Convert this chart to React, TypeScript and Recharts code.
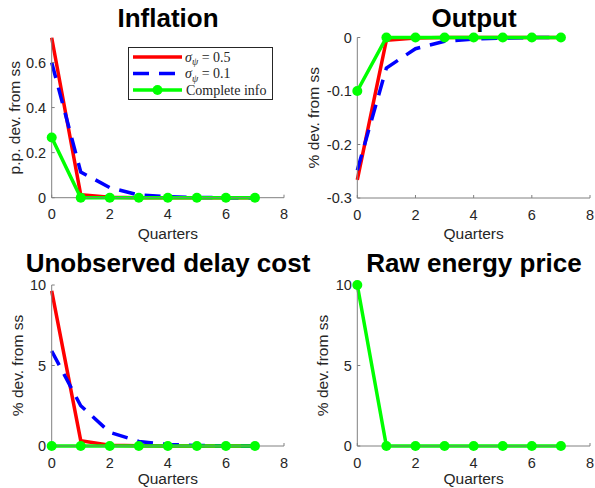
import { LineChart, Line, XAxis, YAxis, Legend, Label } from 'recharts';

// impulse responses, quarters 0..7
const quarters = [0, 1, 2, 3, 4, 5, 6, 7];

const inflationHigh = [0.71, 0.013, 0.002, 0, 0, 0, 0, 0];
const inflationLow = [0.6, 0.114, 0.045, 0.012, 0.004, 0.001, 0, 0];
const inflationFull = [0.267, 0, 0, 0, 0, 0, 0, 0];

const outputHigh = [-0.266, -0.005, -0.001, 0, 0, 0, 0, 0];
const outputLow = [-0.248, -0.057, -0.021, -0.007, -0.003, -0.001, 0, 0];
const outputFull = [-0.1, 0, 0, 0, 0, 0, 0, 0];

const delayHigh = [9.63, 0.33, 0.05, 0.01, 0, 0, 0, 0];
const delayLow = [5.9, 2.5, 0.85, 0.28, 0.1, 0.03, 0.01, 0];
const delayFull = [0, 0, 0, 0, 0, 0, 0, 0];

const energyFull = [10, 0, 0, 0, 0, 0, 0, 0];

const xTicks = [0, 2, 4, 6, 8];
const inflationTicks = [0, 0.2, 0.4, 0.6];
const outputTicks = [-0.3, -0.2, -0.1, 0];
const levelTicks = [0, 5, 10];

const legendLabels = ['0.5', '0.1', 'Complete info'];

const RED = '#ff0000';
const BLUE = '#0000ff';
const GREEN = '#00ff00';
const AXIS = '#808080';
const TEXT = '#262626';
const SANS = '"Liberation Sans", Arial, Helvetica, sans-serif';
const SERIF = '"Liberation Serif", "DejaVu Serif", serif';

const Y_W = 44;
const X_H = 42;

type Row = { q: number; high?: number; low?: number; full: number };

const buildRows = (full: number[], high?: number[], low?: number[]): Row[] =>
  quarters.map((q, i) => ({ q, high: high?.[i], low: low?.[i], full: full[i] }));

const Sigma = ({ value }: { value: string }) => (
  <>
    <tspan fontStyle="italic">σ</tspan>
    <tspan fontStyle="italic" fontSize={10} dy={3.5}>ψ</tspan>
    <tspan dy={-3.5}> = {value}</tspan>
  </>
);

const LegendBox = () => (
  <svg width={145} height={53} style={{ display: 'block' }}>
    <rect x={0.5} y={0.5} width={144} height={52} fill="#fff" stroke={TEXT} strokeWidth={1} />
    <line x1={5} x2={54} y1={10} y2={10} stroke={RED} strokeWidth={3.5} />
    <line x1={5} x2={54} y1={26.5} y2={26.5} stroke={BLUE} strokeWidth={3.5} strokeDasharray="16 10" />
    <line x1={5} x2={54} y1={43} y2={43} stroke={GREEN} strokeWidth={3.5} />
    <circle cx={29.5} cy={43} r={5} fill={GREEN} />
    <text x={57} y={14.5} fontFamily={SERIF} fontSize={14} fill={TEXT}>
      <Sigma value={legendLabels[0]} />
    </text>
    <text x={57} y={31} fontFamily={SERIF} fontSize={14} fill={TEXT}>
      <Sigma value={legendLabels[1]} />
    </text>
    <text x={58} y={47.5} fontFamily={SERIF} fontSize={14} fill={TEXT}>
      {legendLabels[2]}
    </text>
  </svg>
);

type PanelProps = {
  left: number;
  top: number;
  width: number;
  height: number;
  margin: { top: number; right: number; bottom: number; left: number };
  rows: Row[];
  domain: [number, number];
  yTicks: number[];
  yLabel: string;
  yLabelOffset: number;
  xLabelOffset: number;
  showLegend?: boolean;
};

const tickStyle = { fill: TEXT, fontSize: 14.5, fontFamily: SANS };

const Panel = ({ left, top, width, height, margin, rows, domain, yTicks, yLabel, yLabelOffset, xLabelOffset, showLegend }: PanelProps) => (
  <div style={{ position: 'absolute', left, top, width, height }}>
    <LineChart
      width={width}
      height={height}
      data={rows}
      margin={{ top: margin.top, right: margin.right, bottom: margin.bottom - X_H, left: margin.left - Y_W }}
    >
      <XAxis
        dataKey="q"
        type="number"
        domain={[0, 8]}
        ticks={xTicks}
        height={X_H}
        stroke={AXIS}
        tickSize={-3}
        tickMargin={14.5}
        tick={tickStyle}
      >
        <Label
          content={(p: any) => {
            const vb = p.viewBox;
            return (
              <text x={vb.x + vb.width / 2} y={vb.y + xLabelOffset} textAnchor="middle" fontFamily={SANS} fontSize={15.5} fill={TEXT}>
                Quarters
              </text>
            );
          }}
        />
      </XAxis>
      <YAxis
        type="number"
        domain={domain}
        ticks={yTicks}
        width={Y_W}
        stroke={AXIS}
        tickSize={-3}
        tickMargin={8.5}
        tick={tickStyle}
      >
        <Label
          content={(p: any) => {
            const vb = p.viewBox;
            const cx = vb.x + vb.width - yLabelOffset;
            const cy = vb.y + vb.height / 2;
            return (
              <text x={cx} y={cy} dy="0.35em" transform={`rotate(-90, ${cx}, ${cy})`} textAnchor="middle" fontFamily={SANS} fontSize={15.5} fill={TEXT}>
                {yLabel}
              </text>
            );
          }}
        />
      </YAxis>
      {showLegend && (
        <Legend
          layout="horizontal"
          align="center"
          verticalAlign="middle"
          content={() => <LegendBox />}
          wrapperStyle={{ position: 'absolute', left: 128, top: 47, width: 145, height: 53 }}
        />
      )}
      {rows[0].high !== undefined && (
        <Line dataKey="high" stroke={RED} strokeWidth={3.5} dot={false} isAnimationActive={false} />
      )}
      {rows[0].low !== undefined && (
        <Line dataKey="low" stroke={BLUE} strokeWidth={3.5} strokeDasharray="16 10" dot={false} isAnimationActive={false} />
      )}
      <Line
        dataKey="full"
        stroke={GREEN}
        strokeWidth={3.5}
        dot={{ r: 5, fill: GREEN, stroke: GREEN, strokeWidth: 0 }}
        isAnimationActive={false}
      />
    </LineChart>
  </div>
);

const titles = [
  { text: 'Inflation', x: 168, y: 27 },
  { text: 'Output', x: 474, y: 27 },
  { text: 'Unobserved delay cost', x: 168, y: 271.5 },
  { text: 'Raw energy price', x: 474, y: 271.5 },
];

export default function App() {
  return (
    <div style={{ position: 'absolute', left: 0, top: 0, width: 595, height: 488, background: '#fff', overflow: 'hidden' }}>
      <Panel
        left={0}
        top={0}
        width={297}
        height={244}
        margin={{ top: 37.7, right: 13, bottom: 46.3, left: 51.7 }}
        rows={buildRows(inflationFull, inflationHigh, inflationLow)}
        domain={[0, 0.71]}
        yTicks={inflationTicks}
        yLabel="p.p. dev. from ss"
        yLabelOffset={36.7}
        xLabelOffset={41}
        showLegend
      />
      <Panel
        left={297}
        top={0}
        width={298}
        height={244}
        margin={{ top: 37.5, right: 5, bottom: 46, left: 60.3 }}
        rows={buildRows(outputFull, outputHigh, outputLow)}
        domain={[-0.3, 0]}
        yTicks={outputTicks}
        yLabel="% dev. from ss"
        yLabelOffset={43.3}
        xLabelOffset={41}
      />
      <Panel
        left={0}
        top={244}
        width={297}
        height={244}
        margin={{ top: 41, right: 13, bottom: 42, left: 51.7 }}
        rows={buildRows(delayFull, delayHigh, delayLow)}
        domain={[0, 10]}
        yTicks={levelTicks}
        yLabel="% dev. from ss"
        yLabelOffset={34.2}
        xLabelOffset={37.5}
      />
      <Panel
        left={297}
        top={244}
        width={298}
        height={244}
        margin={{ top: 41, right: 5, bottom: 42, left: 60.3 }}
        rows={buildRows(energyFull)}
        domain={[0, 10]}
        yTicks={levelTicks}
        yLabel="% dev. from ss"
        yLabelOffset={34.8}
        xLabelOffset={37.5}
      />
      <svg width={595} height={488} style={{ position: 'absolute', left: 0, top: 0, pointerEvents: 'none' }}>
        {titles.map((t) => (
          <text key={t.text} x={t.x} y={t.y} textAnchor="middle" fontFamily={SANS} fontWeight="bold" fontSize={26} fill="#000">
            {t.text}
          </text>
        ))}
      </svg>
    </div>
  );
}
